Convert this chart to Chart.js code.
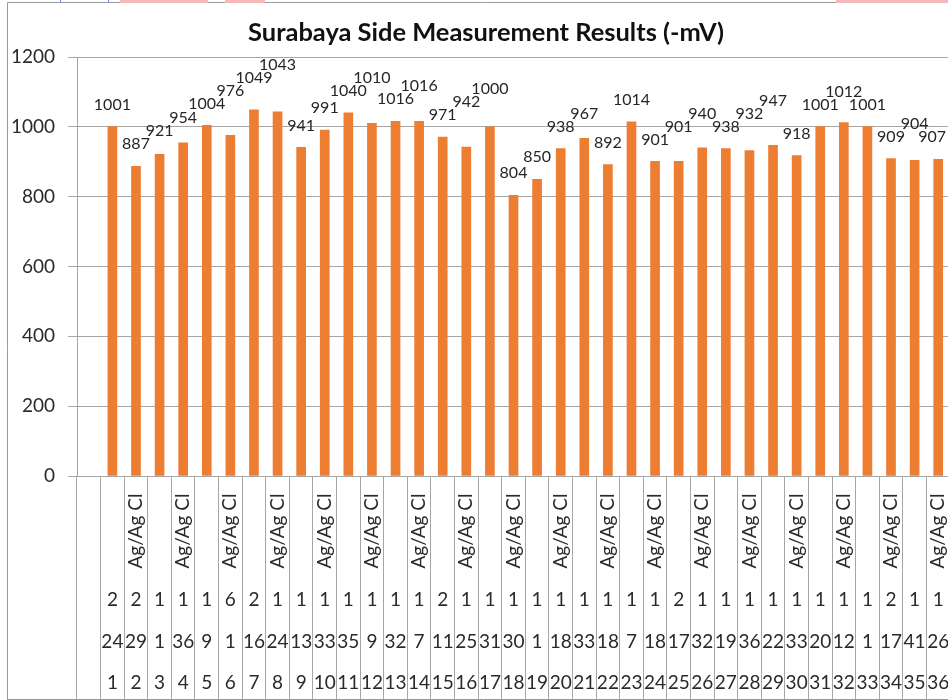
<!DOCTYPE html>
<html><head><meta charset="utf-8">
<script src="https://cdn.jsdelivr.net/npm/chart.js@4/dist/chart.umd.min.js"></script>
<style>
html,body{margin:0;padding:0;background:#fff;overflow:hidden;width:948px;height:700px;}
#wrap{position:absolute;left:0;top:0;width:960px;height:700px;}
.pink{position:absolute;top:0;height:3px;background:#f6b9b9;}
.blue{position:absolute;top:0;width:1px;height:3px;background:#6f8fd8;}
</style></head><body>
<div id="wrap"><canvas id="c" width="960" height="700"></canvas></div>
<div class="pink" style="left:120px;width:88px"></div>
<div class="pink" style="left:225px;width:40px"></div>
<div class="pink" style="left:836px;width:112px"></div>
<div class="blue" style="left:60px"></div>
<div class="blue" style="left:108px"></div>
<script>
const TITLE = 'Surabaya Side Measurement Results (-mV)';
const pointNumbers = ['1','2','3','4','5','6','7','8','9','10','11','12','13','14','15','16','17','18','19','20','21','22','23','24','25','26','27','28','29','30','31','32','33','34','35','36'];
const values = [1001,887,921,954,1004,976,1049,1043,941,991,1040,1010,1016,1016,971,942,1000,804,850,938,967,892,1014,901,901,940,938,932,947,918,1001,1012,1001,909,904,907];
const electrodeLabels = ['','Ag/Ag Cl','','Ag/Ag Cl','','Ag/Ag Cl','','Ag/Ag Cl','','Ag/Ag Cl','','Ag/Ag Cl','','Ag/Ag Cl','','Ag/Ag Cl','','Ag/Ag Cl','','Ag/Ag Cl','','Ag/Ag Cl','','Ag/Ag Cl','','Ag/Ag Cl','','Ag/Ag Cl','','Ag/Ag Cl','','Ag/Ag Cl','','Ag/Ag Cl','','Ag/Ag Cl'];
const levelA = ['2','2','1','1','1','6','2','1','1','1','1','1','1','1','2','1','1','1','1','1','1','1','1','1','2','1','1','1','1','1','1','1','1','2','1','1'];
const levelB = ['24','29','1','36','9','1','16','24','13','33','35','9','32','7','11','25','31','30','1','18','33','18','7','18','17','32','19','36','22','33','20','12','1','17','41','26'];
const yTicks = [0,200,400,600,800,1000,1200];

const labels = [''].concat(pointNumbers);
const data = [null].concat(values);
const GRID = '#a6a6a6';
const TXT = '#2a2a2a';

const drawPlugin = {
  id: 'custom',
  afterDraw(chart) {
    const ctx = chart.ctx;
    const x = chart.scales.x;
    ctx.save();
    // frame
    ctx.strokeStyle = '#9a9a9a';
    ctx.lineWidth = 1;
    ctx.beginPath();
    ctx.moveTo(7.5, 700); ctx.lineTo(7.5, 2.5); ctx.lineTo(chart.width, 2.5);
    ctx.moveTo(7.5, 699.5); ctx.lineTo(chart.width, 699.5);
    ctx.stroke();
    // title
    ctx.fillStyle = '#111';
    ctx.font = 'bold 20px Lato';
    const tw = ctx.measureText(TITLE).width;
    const fs = 20 * 476 / tw;
    ctx.font = 'bold ' + fs.toFixed(2) + 'px Lato';
    ctx.textAlign = 'center';
    ctx.textBaseline = 'middle';
    ctx.fillText(TITLE, 486, 33);
    // data labels
    ctx.font = '16px Lato';
    ctx.fillStyle = '#262626';
    const meta = chart.getDatasetMeta(0);
    const placed = [];
    const h = 13;
    meta.data.forEach((bar, i) => {
      const v = data[i];
      if (v === null || v === undefined) return;
      const txt = String(v);
      const w = ctx.measureText(txt).width;
      let cx = Math.min(bar.x, 946 - w / 2);
      let cy = bar.y - 22;
      let moved = true, guard = 0;
      while (moved && guard++ < 50) {
        moved = false;
        for (const p of placed) {
          if (cx - w/2 < p.x2 && cx + w/2 > p.x1 && cy - h/2 < p.y2 && cy + h/2 > p.y1) {
            cy = p.y1 - h/2; moved = true;
          }
        }
      }
      placed.push({x1: cx - w/2, x2: cx + w/2, y1: cy - h/2, y2: cy + h/2});
      ctx.fillText(txt, cx, cy);
    });
    // multi-level category labels
    ctx.fillStyle = TXT;
    ctx.font = '19px Lato';
    pointNumbers.forEach((p, i) => {
      const px = x.getPixelForValue(i + 1);
      ctx.textAlign = 'center';
      ctx.fillText(levelA[i], px, 600);
      ctx.fillText(levelB[i], px, 642);
      ctx.fillText(p, px, 683);
      if (electrodeLabels[i]) {
        ctx.save();
        ctx.translate(px, 531);
        ctx.rotate(-Math.PI / 2);
        ctx.fillText(electrodeLabels[i], 0, 0);
        ctx.restore();
      }
    });
    ctx.restore();
  }
};

new Chart(document.getElementById('c'), {
  type: 'bar',
  data: { labels: labels, datasets: [{ data: data, backgroundColor: '#ED7D31', barThickness: 9 }] },
  options: {
    responsive: false,
    animation: false,
    layout: { padding: { top: 57, right: 10, left: 0, bottom: 0 } },
    plugins: { legend: { display: false }, tooltip: { enabled: false }, title: { display: false } },
    scales: {
      x: {
        offset: true,
        grid: { offset: true, drawOnChartArea: false, drawTicks: true, tickLength: 224, color: GRID, lineWidth: 1 },
        border: { display: true, color: GRID },
        ticks: { display: false },
        afterFit(s) { s.height = 224; }
      },
      y: {
        min: 0, max: 1200,
        afterBuildTicks(s) { s.ticks = yTicks.map(v => ({ value: v })); },
        ticks: { font: { family: 'Lato', size: 19 }, color: TXT, padding: 13, callback: v => String(v) },
        grid: { color: GRID, tickLength: 9 },
        border: { display: true, color: GRID },
        afterFit(s) { s.width = 77; }
      }
    }
  },
  plugins: [drawPlugin]
});
</script>
</body></html>
